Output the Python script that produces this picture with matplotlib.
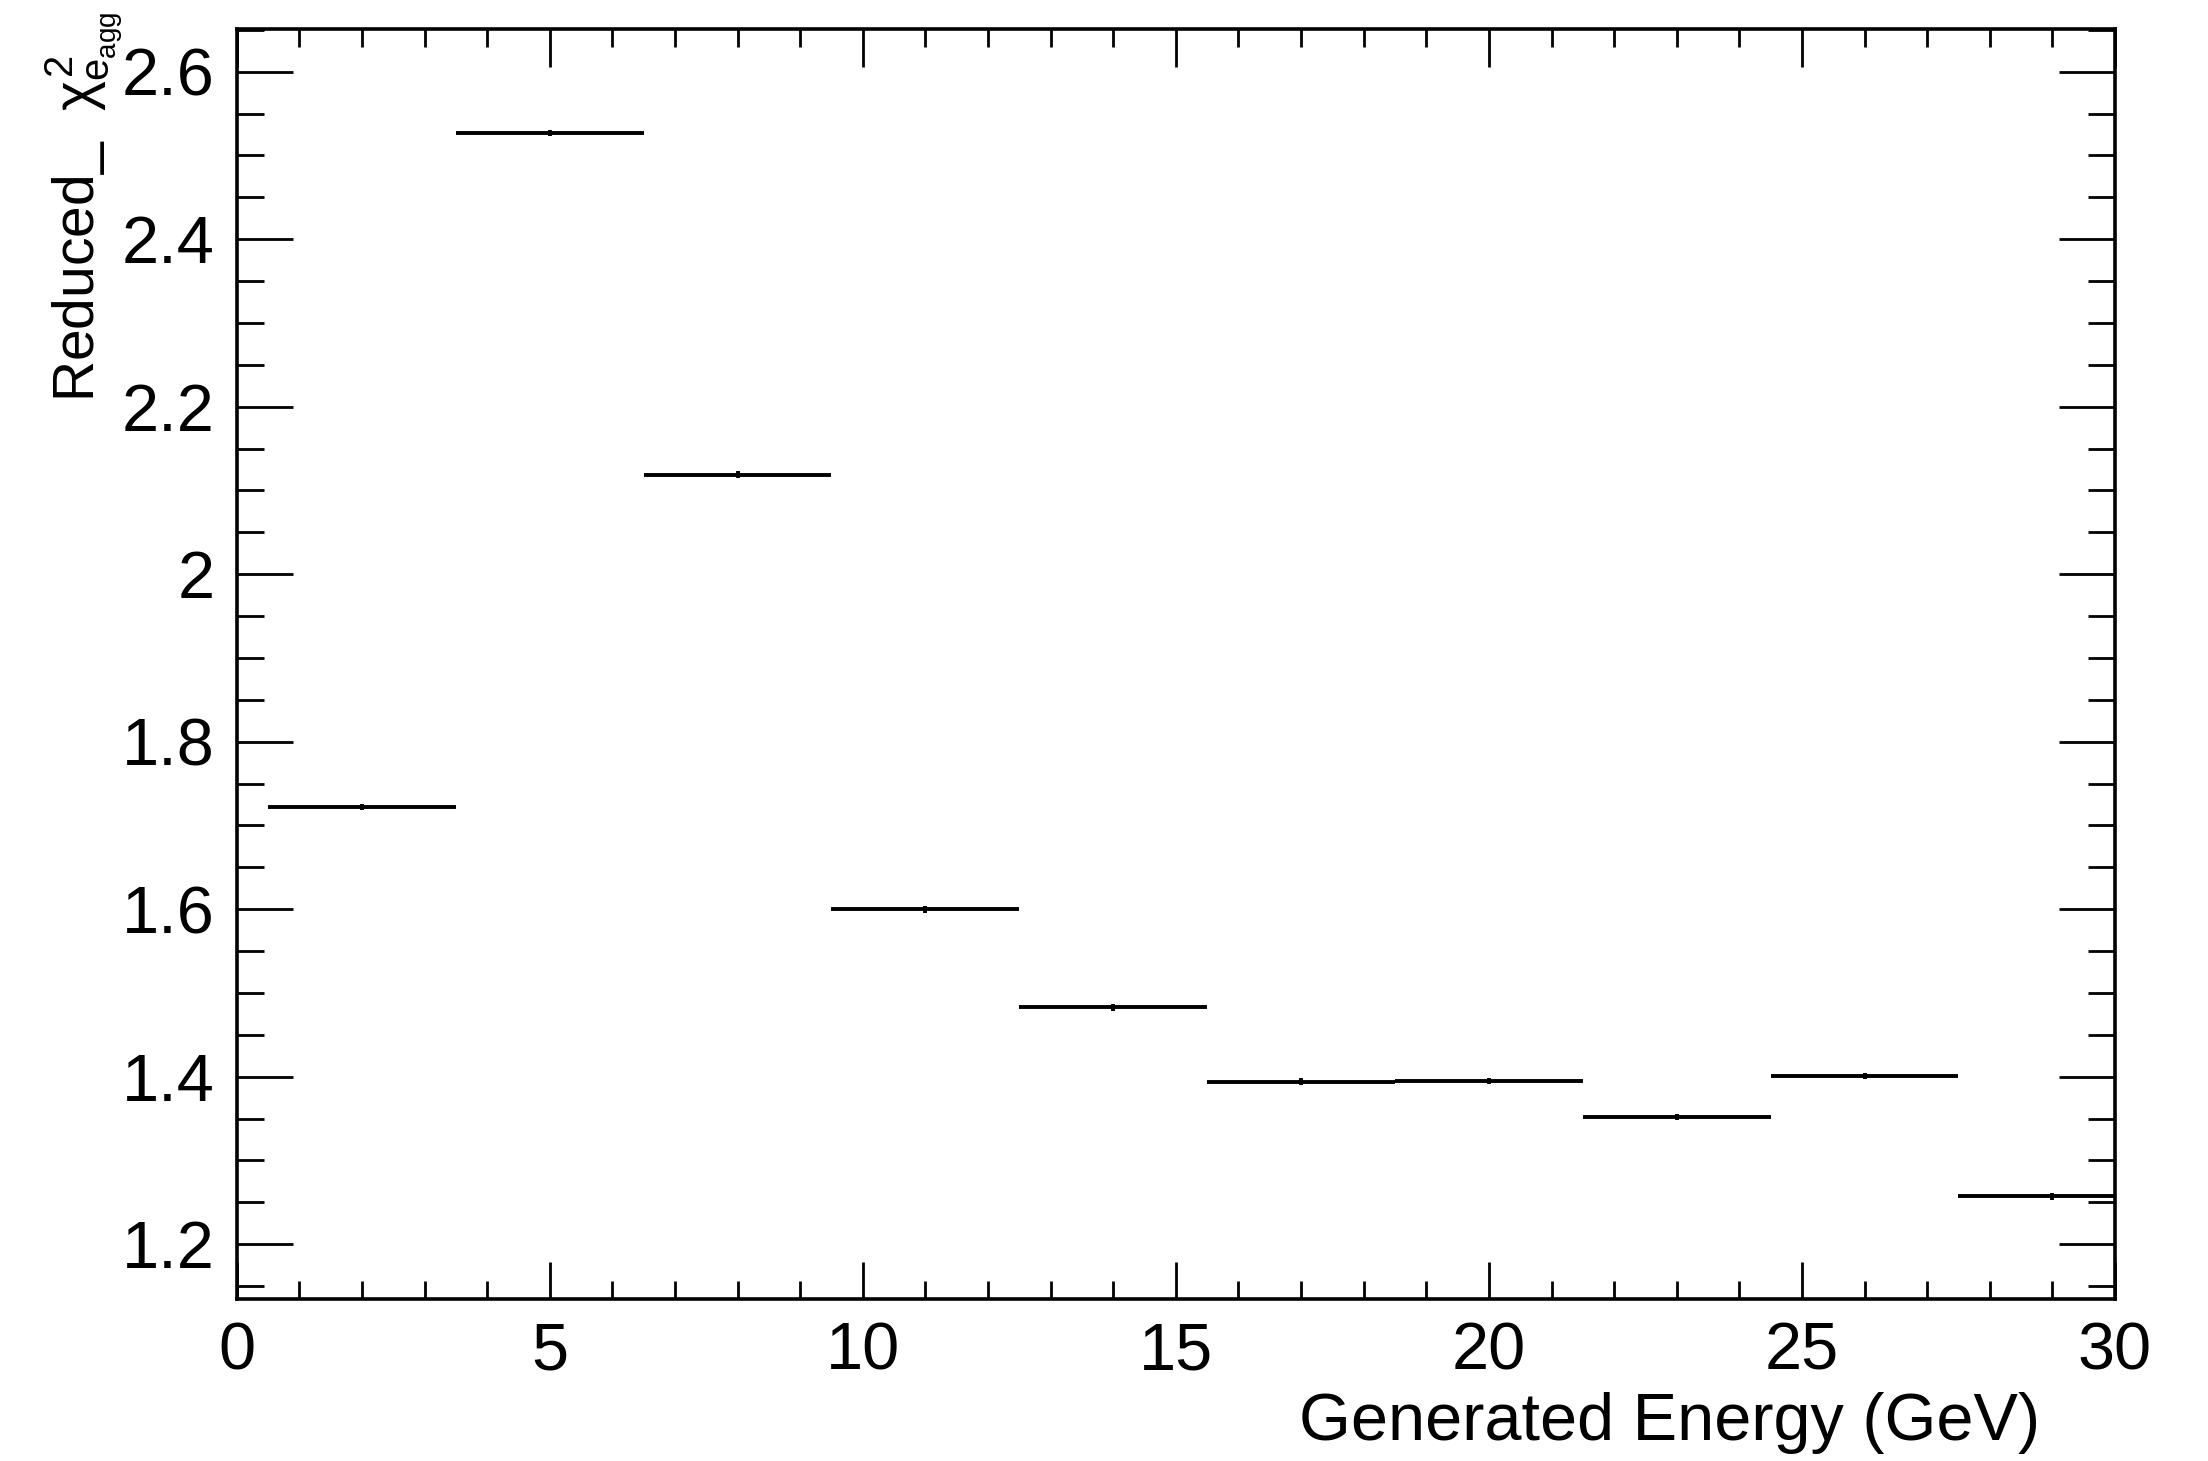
import matplotlib
matplotlib.use("Agg")
import matplotlib.pyplot as plt
from matplotlib.ticker import MultipleLocator

# Data
energy_centers = [2, 5, 8, 11, 14, 17, 20, 23, 26, 29]
bin_half_width = [1.5] * 10
reduced_chi2 = [1.722, 2.527, 2.119, 1.600, 1.483, 1.394, 1.395, 1.352, 1.401, 1.257]
chi2_err = [0.004] * 10
x_ticks = [0, 5, 10, 15, 20, 25, 30]
y_ticks = [1.2, 1.4, 1.6, 1.8, 2.0, 2.2, 2.4, 2.6]
y_tick_labels = ["1.2", "1.4", "1.6", "1.8", "2", "2.2", "2.4", "2.6"]

plt.rcParams['font.family'] = ['Liberation Sans', 'DejaVu Sans']
plt.rcParams['mathtext.fontset'] = 'custom'
plt.rcParams['mathtext.rm'] = 'Liberation Sans'
plt.rcParams['mathtext.it'] = 'Liberation Sans'
plt.rcParams['mathtext.bf'] = 'Liberation Sans:bold'

W, H = 2208, 1461
fig = plt.figure(figsize=(W / 100, H / 100), dpi=100)
ax = fig.add_axes([236.7 / W, 1 - 1299 / H, (2115 - 236.7) / W, (1299 - 29) / H])

ax.errorbar(energy_centers, reduced_chi2, xerr=bin_half_width, yerr=chi2_err,
            fmt='none', ecolor='black', elinewidth=2.8, capsize=0)

ax.set_xlim(0, 30)
ax.set_ylim(1.1346, 2.651)

ax.set_xticks(x_ticks)
ax.set_yticks(y_ticks)
ax.set_yticklabels(y_tick_labels)
ax.xaxis.set_minor_locator(MultipleLocator(1))
ax.yaxis.set_minor_locator(MultipleLocator(0.05))

for s in ax.spines.values():
    s.set_linewidth(2.6)

ax.tick_params(axis='both', which='both', direction='in', top=True, right=True,
               labelsize=48, width=2.0, pad=16)
ax.tick_params(axis='x', which='major', length=27)
ax.tick_params(axis='x', which='minor', length=13)
ax.tick_params(axis='y', which='major', length=40)
ax.tick_params(axis='y', which='minor', length=19.5)

fig.text(2040 / W, 1 - 1440 / H, "Generated Energy (GeV)", ha='right', va='baseline',
         fontsize=48)
fig.text(84 / W, 1 - 12 / H, r"Reduced_  $\chi^{2}_{e_{agg}}$", rotation=90,
         ha='center', va='top', fontsize=41)

fig.savefig("out.png", dpi=100, facecolor='white')
